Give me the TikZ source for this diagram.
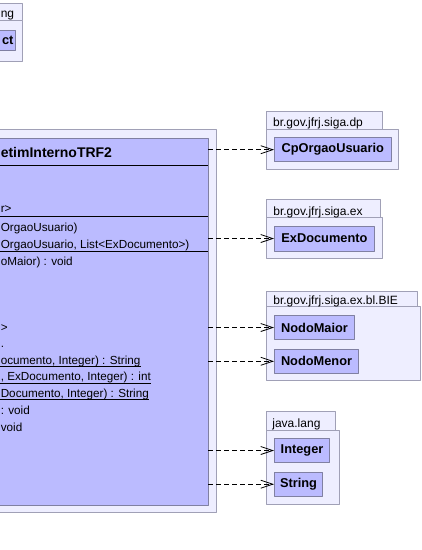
\documentclass[tikz,border=0pt]{standalone}
\usepackage{fontspec}
\setmainfont{Liberation Sans}
\usetikzlibrary{arrows.meta}
\definecolor{pkgfill}{RGB}{238,238,255}
\definecolor{pkgline}{RGB}{160,160,182}
\definecolor{clsfill}{RGB}{187,187,255}
\definecolor{clsline}{RGB}{128,128,162}
\tikzset{
	pkg/.style={draw=pkgline, fill=pkgfill},
	cls/.style={draw=clsline, fill=clsfill, inner sep=0pt, anchor=west, font=\fontsize{12.8}{14}\selectfont\bfseries},
	lbl/.style={anchor=base west, inner sep=0pt, font=\fontsize{12}{14}\selectfont},
	mem/.style={anchor=base west, inner sep=0pt, font=\fontsize{11.7}{13}\selectfont},
	dep/.style={dash pattern=on 5pt off 3pt, -{Straight Barb[length=12pt,width=8pt]}}
}
\begin{document}
\begin{tikzpicture}[x=1pt, y=-1pt, line width=0.8pt, line join=round]
	\def\xl{0.4}
	\useasboundingbox (0,0) rectangle (422,550);
	\draw[pkg] (-10,3) rectangle (22,20);
	\draw[pkg] (-10,20) rectangle (22.7,61);
	\node[lbl] (tl) at (\xl,17) {ng};
	\node[cls, anchor=north east, minimum width=26pt, minimum height=20pt] (obj) at (16,30) {};
	\node[mem, font=\fontsize{12.8}{14}\selectfont\bfseries] (objt) at (1.6,44.5) {ct};
	\draw[pkg] (-10,129) rectangle (216.3,512);
	\node[cls, anchor=north east, minimum width=230pt, minimum height=367pt] (main) at (208.3,138) {};
	\draw[black] (main.west |- 0,165) -- (main.east |- 0,165);
	\draw[black] (main.west |- 0,216) -- (main.east |- 0,216);
	\draw[black] (main.west |- 0,251) -- (main.east |- 0,251);
	\node[mem, font=\fontsize{14}{16}\selectfont\bfseries] (ttl) at (\xl,157.7) {etimInternoTRF2};
	\node[mem] (a1) at (\xl,212) {r>};
	\node[mem] (c1) at (\xl,231.6) {OrgaoUsuario)};
	\node[mem] (c2) at (\xl,248) {OrgaoUsuario, List<ExDocumento>)};
	\node[mem] (m1) at (\xl,265) {oMaior) : void};
	\node[mem] (m2) at (\xl,331.2) {>};
	\node[mem] (m3) at (\xl,347.7) {.};
	\node[mem] (s1) at (\xl,364.3) {ocumento, Integer) : String};
	\node[mem] (s2) at (\xl,380.9) {, ExDocumento, Integer) : int};
	\node[mem] (s3) at (\xl,397.4) {Documento, Integer) : String};
	\node[mem] (m4) at (\xl,414.5) {: void};
	\node[mem] (m5) at (\xl,431) {void};
	\foreach \n in {s1,s2,s3}
	{\draw ([yshift=-2.4pt]\n.base west) -- ([yshift=-2.4pt]\n.base east);}
	\draw[pkg] (266,111.7) rectangle (382.7,129.3);
	\draw[pkg] (266,129.3) rectangle (398.7,169.3);
	\node[lbl] (dp) at (272.7,126.8) {br.gov.jfrj.siga.dp};
	\node[cls, minimum width=116.7pt, minimum height=24pt] (cp) at (274,149.7) {CpOrgaoUsuario};
	\draw[pkg] (266,199.3) rectangle (380.3,217.7);
	\draw[pkg] (266,217.7) rectangle (382.7,258.3);
	\node[lbl] (ex) at (273,215.2) {br.gov.jfrj.siga.ex};
	\node[cls, minimum width=100pt, minimum height=25pt] (exd) at (274,238.5) {ExDocumento};
	\draw[pkg] (266,291) rectangle (417.3,306.5);
	\draw[pkg] (266,306.5) rectangle (420.3,380.5);
	\node[lbl] (bie) at (273,304.3) {br.gov.jfrj.siga.ex.bl.BIE};
	\node[cls, minimum width=80.3pt, minimum height=23.6pt] (nmaior) at (274,327.5) {NodoMaior};
	\node[cls, minimum width=84.3pt, minimum height=24pt] (nmenor) at (274,361.3) {NodoMenor};
	\draw[pkg] (266,411.7) rectangle (335,430);
	\draw[pkg] (266,430) rectangle (339.3,504);
	\node[lbl] (jl) at (272,427.5) {java.lang};
	\node[cls, minimum width=55.3pt, minimum height=24.4pt] (intg) at (274,450.5) {Integer};
	\node[cls, minimum width=48.3pt, minimum height=23.7pt] (strg) at (274,484.2) {String};
	\foreach \n in {cp,exd,nmaior,nmenor,intg,strg}
	{\draw[dep] (main.east |- \n.west) -- (\n.west);}
\end{tikzpicture}
\end{document}
